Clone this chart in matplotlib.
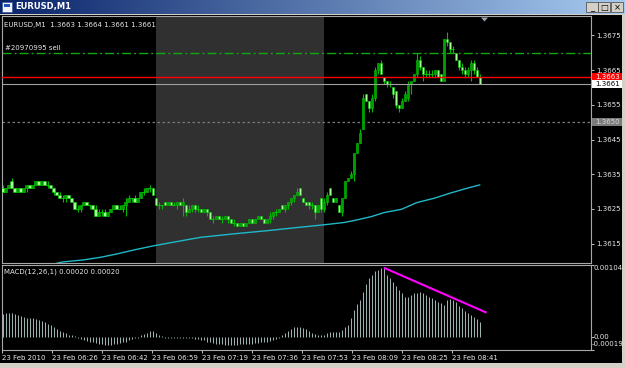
import matplotlib

matplotlib.use('Agg')
import matplotlib.pyplot as plt
import matplotlib.transforms as mtransforms
import numpy as np
from matplotlib.colors import LinearSegmentedColormap
from matplotlib.patches import Polygon, Rectangle

plt.rcParams['font.family'] = 'DejaVu Sans'

# EURUSD M1, one value per bar (160 bars, 23 Feb 2010 06:10 .. 08:51)
opens = [
    1.3631, 1.3630, 1.3631, 1.3633, 1.3631, 1.3630, 1.3631, 1.3630, 1.3631, 1.3632, 1.3631, 1.3632, 1.3633, 1.3632, 1.3633, 1.3632,
    1.3632, 1.3631, 1.3630, 1.3629, 1.3628, 1.3628, 1.3629, 1.3628, 1.3627, 1.3625, 1.3625, 1.3626, 1.3627, 1.3626, 1.3626, 1.3625,
    1.3623, 1.3624, 1.3624, 1.3623, 1.3624, 1.3625, 1.3626, 1.3625, 1.3625, 1.3626, 1.3627, 1.3628, 1.3628, 1.3627, 1.3628, 1.3630,
    1.3630, 1.3631, 1.3631, 1.3628, 1.3626, 1.3626, 1.3627, 1.3626, 1.3627, 1.3626, 1.3626, 1.3627, 1.3626, 1.3626, 1.3624, 1.3625,
    1.3626, 1.3625, 1.3625, 1.3624, 1.3625, 1.3624, 1.3622, 1.3622, 1.3623, 1.3622, 1.3622, 1.3623, 1.3622, 1.3621, 1.3621, 1.3620,
    1.3621, 1.3620, 1.3621, 1.3622, 1.3621, 1.3622, 1.3623, 1.3622, 1.3621, 1.3622, 1.3623, 1.3624, 1.3624, 1.3626, 1.3625, 1.3626,
    1.3627, 1.3628, 1.3629, 1.3631, 1.3628, 1.3627, 1.3627, 1.3626, 1.3626, 1.3624, 1.3628, 1.3625, 1.3627, 1.3631, 1.3628, 1.3627,
    1.3626, 1.3624, 1.3628, 1.3633, 1.3634, 1.3635, 1.3641, 1.3644, 1.3648, 1.3658, 1.3656, 1.3654, 1.3657, 1.3665, 1.3667, 1.3663,
    1.3662, 1.3661, 1.3660, 1.3659, 1.3655, 1.3654, 1.3656, 1.3657, 1.3661, 1.3662, 1.3664, 1.3668, 1.3666, 1.3664, 1.3664, 1.3664,
    1.3664, 1.3665, 1.3664, 1.3662, 1.3674, 1.3673, 1.3671, 1.3670, 1.3668, 1.3666, 1.3665, 1.3664, 1.3665, 1.3667, 1.3665, 1.3663,
]
highs = [
    1.3632, 1.3631, 1.3632, 1.3634, 1.3631, 1.3631, 1.3631, 1.3631, 1.3632, 1.3632, 1.3632, 1.3633, 1.3633, 1.3633, 1.3633, 1.3633,
    1.3632, 1.3631, 1.3630, 1.3630, 1.3629, 1.3629, 1.3629, 1.3628, 1.3627, 1.3626, 1.3626, 1.3627, 1.3627, 1.3626, 1.3626, 1.3626,
    1.3625, 1.3625, 1.3625, 1.3624, 1.3625, 1.3626, 1.3626, 1.3626, 1.3626, 1.3628, 1.3629, 1.3628, 1.3629, 1.3628, 1.3630, 1.3631,
    1.3631, 1.3632, 1.3631, 1.3628, 1.3627, 1.3626, 1.3627, 1.3627, 1.3627, 1.3627, 1.3627, 1.3627, 1.3628, 1.3626, 1.3626, 1.3626,
    1.3626, 1.3626, 1.3625, 1.3625, 1.3625, 1.3624, 1.3623, 1.3623, 1.3623, 1.3623, 1.3623, 1.3623, 1.3622, 1.3622, 1.3621, 1.3621,
    1.3621, 1.3621, 1.3622, 1.3622, 1.3622, 1.3623, 1.3623, 1.3622, 1.3622, 1.3624, 1.3624, 1.3625, 1.3625, 1.3626, 1.3626, 1.3627,
    1.3628, 1.3629, 1.3631, 1.3631, 1.3628, 1.3627, 1.3627, 1.3627, 1.3626, 1.3626, 1.3628, 1.3628, 1.3630, 1.3631, 1.3628, 1.3628,
    1.3626, 1.3628, 1.3633, 1.3634, 1.3636, 1.3641, 1.3644, 1.3648, 1.3658, 1.3658, 1.3656, 1.3658, 1.3666, 1.3667, 1.3668, 1.3663,
    1.3662, 1.3662, 1.3660, 1.3659, 1.3655, 1.3657, 1.3659, 1.3662, 1.3662, 1.3664, 1.3670, 1.3669, 1.3666, 1.3665, 1.3665, 1.3665,
    1.3665, 1.3665, 1.3664, 1.3674, 1.3676, 1.3673, 1.3672, 1.3670, 1.3668, 1.3667, 1.3666, 1.3666, 1.3668, 1.3668, 1.3666, 1.3664,
]
lows = [
    1.3630, 1.3630, 1.3631, 1.3631, 1.3630, 1.3630, 1.3630, 1.3630, 1.3630, 1.3631, 1.3631, 1.3632, 1.3632, 1.3632, 1.3632, 1.3631,
    1.3631, 1.3629, 1.3629, 1.3628, 1.3627, 1.3627, 1.3628, 1.3627, 1.3625, 1.3624, 1.3624, 1.3626, 1.3626, 1.3625, 1.3625, 1.3623,
    1.3623, 1.3623, 1.3623, 1.3623, 1.3624, 1.3625, 1.3625, 1.3625, 1.3624, 1.3623, 1.3627, 1.3627, 1.3627, 1.3627, 1.3628, 1.3629,
    1.3630, 1.3630, 1.3629, 1.3626, 1.3625, 1.3625, 1.3626, 1.3626, 1.3626, 1.3626, 1.3625, 1.3626, 1.3623, 1.3623, 1.3624, 1.3624,
    1.3624, 1.3624, 1.3624, 1.3624, 1.3623, 1.3622, 1.3621, 1.3622, 1.3622, 1.3621, 1.3622, 1.3621, 1.3621, 1.3620, 1.3620, 1.3620,
    1.3620, 1.3620, 1.3621, 1.3621, 1.3621, 1.3622, 1.3622, 1.3621, 1.3621, 1.3621, 1.3622, 1.3623, 1.3624, 1.3625, 1.3624, 1.3625,
    1.3626, 1.3627, 1.3629, 1.3629, 1.3627, 1.3626, 1.3625, 1.3625, 1.3622, 1.3624, 1.3624, 1.3624, 1.3626, 1.3629, 1.3627, 1.3627,
    1.3624, 1.3623, 1.3628, 1.3633, 1.3634, 1.3633, 1.3641, 1.3644, 1.3648, 1.3656, 1.3653, 1.3653, 1.3656, 1.3664, 1.3664, 1.3661,
    1.3660, 1.3660, 1.3657, 1.3654, 1.3653, 1.3654, 1.3656, 1.3656, 1.3658, 1.3662, 1.3663, 1.3665, 1.3662, 1.3663, 1.3663, 1.3663,
    1.3663, 1.3663, 1.3662, 1.3662, 1.3672, 1.3670, 1.3670, 1.3668, 1.3665, 1.3664, 1.3663, 1.3663, 1.3662, 1.3664, 1.3663, 1.3661,
]
closes = [
    1.3630, 1.3631, 1.3632, 1.3631, 1.3630, 1.3631, 1.3630, 1.3631, 1.3632, 1.3631, 1.3632, 1.3633, 1.3632, 1.3633, 1.3632, 1.3632,
    1.3631, 1.3630, 1.3629, 1.3628, 1.3628, 1.3629, 1.3628, 1.3627, 1.3625, 1.3625, 1.3626, 1.3627, 1.3626, 1.3626, 1.3625, 1.3623,
    1.3624, 1.3624, 1.3623, 1.3624, 1.3625, 1.3626, 1.3625, 1.3625, 1.3626, 1.3627, 1.3628, 1.3628, 1.3627, 1.3628, 1.3630, 1.3630,
    1.3631, 1.3631, 1.3629, 1.3626, 1.3626, 1.3626, 1.3626, 1.3627, 1.3626, 1.3626, 1.3627, 1.3626, 1.3627, 1.3624, 1.3625, 1.3626,
    1.3625, 1.3625, 1.3624, 1.3625, 1.3624, 1.3622, 1.3622, 1.3623, 1.3622, 1.3622, 1.3623, 1.3622, 1.3621, 1.3621, 1.3620, 1.3621,
    1.3620, 1.3621, 1.3622, 1.3621, 1.3622, 1.3623, 1.3622, 1.3621, 1.3622, 1.3623, 1.3624, 1.3624, 1.3625, 1.3625, 1.3626, 1.3627,
    1.3628, 1.3629, 1.3630, 1.3629, 1.3627, 1.3626, 1.3626, 1.3626, 1.3624, 1.3626, 1.3625, 1.3627, 1.3629, 1.3629, 1.3627, 1.3628,
    1.3624, 1.3628, 1.3633, 1.3634, 1.3635, 1.3641, 1.3644, 1.3647, 1.3657, 1.3656, 1.3654, 1.3657, 1.3665, 1.3667, 1.3664, 1.3662,
    1.3661, 1.3661, 1.3658, 1.3655, 1.3654, 1.3656, 1.3658, 1.3661, 1.3662, 1.3664, 1.3668, 1.3666, 1.3664, 1.3664, 1.3664, 1.3664,
    1.3665, 1.3663, 1.3662, 1.3674, 1.3673, 1.3671, 1.3671, 1.3668, 1.3666, 1.3665, 1.3664, 1.3665, 1.3667, 1.3665, 1.3663, 1.3661,
]

# cyan moving average, read at these bars
ma_bars = [14, 20, 27, 33, 38, 44, 50, 55, 66, 77, 88, 99, 107, 114, 118, 123, 127, 133, 138, 144, 149, 155, 159]
ma_values = [1.36085, 1.36097, 1.36103, 1.36111, 1.36120, 1.36132, 1.36143, 1.36151, 1.36168, 1.36178, 1.36187,
             1.36197, 1.36204, 1.36211, 1.36218, 1.36228, 1.36239, 1.36249, 1.36268, 1.36281, 1.36295, 1.36310, 1.36319]

# MACD(12,26,1) histogram, one value per bar
macd = [
    0.00033, 0.00034, 0.00034, 0.00034, 0.00033, 0.00031, 0.00030, 0.00029, 0.00028, 0.00027, 0.00027, 0.00026, 0.00025, 0.00023, 0.00021, 0.00019,
    0.00017, 0.00014, 0.00011, 0.00009, 0.00007, 0.00005, 0.00003, 0.00002, 0.00001, -0.00002, -0.00003, -0.00004, -0.00006, -0.00007, -0.00008, -0.00009,
    -0.00010, -0.00011, -0.00012, -0.00012, -0.00012, -0.00011, -0.00010, -0.00009, -0.00008, -0.00007, -0.00005, -0.00003, -0.00002, -0.00001, 0.00002, 0.00004,
    0.00006, 0.00008, 0.00008, 0.00006, 0.00003, 0.00001, -0.00001, -0.00001, -0.00002, -0.00002, -0.00002, -0.00002, -0.00001, -0.00002, -0.00002, -0.00002,
    -0.00003, -0.00003, -0.00004, -0.00005, -0.00007, -0.00008, -0.00009, -0.00010, -0.00011, -0.00011, -0.00012, -0.00012, -0.00012, -0.00012, -0.00012, -0.00011,
    -0.00011, -0.00011, -0.00010, -0.00010, -0.00009, -0.00009, -0.00008, -0.00008, -0.00007, -0.00006, -0.00004, -0.00003, -0.00001, 0.00003, 0.00006, 0.00009,
    0.00012, 0.00014, 0.00014, 0.00014, 0.00013, 0.00011, 0.00009, 0.00006, 0.00004, 0.00003, 0.00002, 0.00002, 0.00006, 0.00007, 0.00007, 0.00007,
    0.00007, 0.00010, 0.00015, 0.00017, 0.00027, 0.00039, 0.00047, 0.00054, 0.00065, 0.00077, 0.00085, 0.00090, 0.00095, 0.00097, 0.00099, 0.00100,
    0.00090, 0.00085, 0.00080, 0.00073, 0.00068, 0.00063, 0.00058, 0.00058, 0.00061, 0.00063, 0.00063, 0.00065, 0.00063, 0.00061, 0.00058, 0.00056,
    0.00054, 0.00051, 0.00049, 0.00046, 0.00054, 0.00055, 0.00054, 0.00050, 0.00044, 0.00042, 0.00037, 0.00034, 0.00032, 0.00029, 0.00026, 0.00021,
]

# magenta trend line drawn on the MACD window (bar, value at both ends)
trend_bars = [127.1, 161.3]
trend_values = [0.00100, 0.00035]

order_price = 1.3670   # #20970995 sell
ask_price = 1.3663
bid_price = 1.3661
level_price = 1.3650
price_ticks = [1.3615, 1.3625, 1.3635, 1.3645, 1.3655, 1.3665, 1.3675]
price_range = (1.36094, 1.36806)
macd_range = (-0.00019, 0.00104)
shade_bars = (51, 107)

time_labels = ['23 Feb 2010', '23 Feb 06:26', '23 Feb 06:42', '23 Feb 06:59', '23 Feb 07:19',
               '23 Feb 07:36', '23 Feb 07:53', '23 Feb 08:09', '23 Feb 08:25', '23 Feb 08:41']

W, H = 625, 368
fig = plt.figure(figsize=(W / 100, H / 100), dpi=100)
fig.patch.set_facecolor('#d4d0c8')


def px(x0, y0, x1, y1):
    # pixel box, origin top-left -> figure rect
    return [x0 / W, 1 - y1 / H, (x1 - x0) / W, (y1 - y0) / H]


def fx(x):
    return x / W


def fy(y):
    return 1 - y / H


# ---- window title bar ----
tb = fig.add_axes(px(0, 0, W, 14))
tb.imshow(np.linspace(0, 1, 256).reshape(1, -1), aspect='auto', extent=[0, 1, 0, 1],
          cmap=LinearSegmentedColormap.from_list('tb', ['#0a246a', '#a6caf0']))
tb.set_axis_off()
fig.add_artist(Rectangle((fx(2), fy(12)), 10 / W, 10 / H, transform=fig.transFigure,
                         fc='#f0f4fa', ec='#3a5a9a', lw=0.5, zorder=5))
fig.add_artist(Rectangle((fx(4), fy(7)), 6 / W, 3 / H, transform=fig.transFigure,
                         fc='#2050c0', ec='none', zorder=6))
fig.text(fx(15), fy(7), 'EURUSD,M1', color='white', fontsize=6, fontweight='bold', va='center')
for bx, glyph in [(586, '_'), (598, '□'), (611, '×')]:
    fig.add_artist(Rectangle((fx(bx), fy(12)), 12 / W, 10 / H, transform=fig.transFigure,
                             fc='#d4d0c8', ec='#404040', lw=0.5, zorder=5))
    fig.text(fx(bx + 6), fy(7.5), glyph, color='black', fontsize=6, ha='center', va='center', zorder=6)

# black chart body
fig.add_artist(Rectangle((fx(0), fy(363)), 622 / W, 348 / H, transform=fig.transFigure,
                         fc='black', ec='none', zorder=-10))

x = np.arange(len(closes))
o, h, l, c = (np.array(v) for v in (opens, highs, lows, closes))
xlim = (-0.2, 196.1)
grey = '#a8a8a8'

# ---- price window ----
ax = fig.add_axes(px(2, 16, 591, 263))
ax.set_facecolor('black')
ax.axvspan(shade_bars[0], shade_bars[1], color='#303030', lw=0, zorder=0)
ax.axhline(order_price, color='#10a810', lw=1.0, dashes=(6.5, 2.2, 1.4, 2.2), zorder=1)
ax.axhline(level_price, color='#7a7a7a', lw=0.9, dashes=(2, 2), zorder=1)
ax.plot(ma_bars, ma_values, color='#1fb8c8', lw=1.0, zorder=2)

ax.vlines(x, l, h, color='#00b800', lw=0.8, zorder=3)
up = c > o
dn = c < o
eq = c == o
ax.bar(x[up], (c - o)[up], bottom=o[up], width=0.75, color='#00a000', edgecolor='#00c800', lw=0.4, zorder=4)
ax.bar(x[dn], (o - c)[dn], bottom=c[dn], width=0.75, color='#a8ff98', edgecolor='#00c800', lw=0.4, zorder=4)
ax.hlines(c[eq], x[eq] - 0.45, x[eq] + 0.45, color='#00c800', lw=0.8, zorder=4)

ax.axhline(ask_price, color='#ff0000', lw=1.0, zorder=5)
ax.axhline(bid_price, color='#a0a0a0', lw=0.8, zorder=5)

ax.set_xlim(*xlim)
ax.set_ylim(*price_range)
ax.set_xticks([])
ax.yaxis.tick_right()
ax.set_yticks(price_ticks)
ax.set_yticklabels([f'{p:.4f}' for p in price_ticks])
ax.tick_params(axis='y', length=2.2, width=0.7, color='#c0c0c0', labelcolor='#e8e8e8', labelsize=5, pad=1.5)
for s in ax.spines.values():
    s.set_color(grey)
    s.set_linewidth(0.8)

trans = mtransforms.blended_transform_factory(ax.transAxes, ax.transData)
box_h = 0.00024
for price, fc, tc in [(ask_price, '#ff0000', 'white'), (bid_price, 'white', 'black'),
                      (level_price, '#7c7c7c', '#d8d8d8')]:
    ax.add_patch(Rectangle((1.002, price - box_h / 2), 0.05, box_h, transform=trans,
                           fc=fc, ec='none', clip_on=False, zorder=10))
    ax.text(1.007, price, f'{price:.4f}', transform=trans, ha='left', va='center',
            fontsize=5, color=tc, clip_on=False, zorder=11)

ax.annotate('#20970995 sell', xy=(0, order_price), xycoords=trans, xytext=(2, 1.2),
            textcoords='offset points', fontsize=5, color='#e8e8e8', va='bottom')
fig.text(fx(4), fy(25), f'EURUSD,M1  {opens[-1]:.4f} {highs[-1]:.4f} {lows[-1]:.4f} {closes[-1]:.4f}',
         fontsize=5, color='#e8e8e8', va='center')

# shift marker
fig.add_artist(Polygon([[fx(481), fy(17.5)], [fx(488), fy(17.5)], [fx(484.5), fy(21.5)]],
                       transform=fig.transFigure, fc='#9aa4ae', ec='none', zorder=5))

# ---- MACD window ----
ax2 = fig.add_axes(px(2, 265, 591, 350))
ax2.set_facecolor('black')
ax2.vlines(x, 0, macd, color='#9db0b0', lw=0.75)
ax2.plot(trend_bars, trend_values, color='#ff00ff', lw=1.5, solid_capstyle='butt', clip_on=False)
ax2.set_xlim(*xlim)
ax2.set_ylim(*macd_range)
ax2.yaxis.tick_right()
ax2.set_yticks([macd_range[1], 0.0, macd_range[0]])
ax2.set_yticklabels([])
ax2.tick_params(axis='y', length=2.2, width=0.7, color='#c0c0c0')

tick_pos = np.arange(len(time_labels)) * 50 / 3 - 0.1
ax2.set_xticks(tick_pos)
ax2.set_xticklabels(time_labels, ha='left')
ax2.tick_params(axis='x', length=2.2, width=0.7, color='#c0c0c0', labelcolor='#e8e8e8', labelsize=5, pad=1.5)
for s in ax2.spines.values():
    s.set_color(grey)
    s.set_linewidth(0.8)

ytr = mtransforms.blended_transform_factory(ax2.transAxes, ax2.transData)
lift = mtransforms.ScaledTranslation(0, 3 / 100, fig.dpi_scale_trans)
ax2.text(1.004, macd_range[1], f'{macd_range[1]:.5f}', transform=ytr, va='top', fontsize=5, color='#e8e8e8')
ax2.text(1.004, 0.0, '0.00', transform=ytr, va='center', fontsize=5, color='#e8e8e8')
ax2.text(1.001, macd_range[0], f'{macd_range[0]:.5f}', transform=ytr + lift, va='bottom', fontsize=5, color='#e8e8e8')
fig.text(fx(4), fy(272), 'MACD(12,26,1) 0.00020 0.00020', fontsize=5, color='#e8e8e8', va='center')

fig.savefig('out.png', dpi=100, facecolor=fig.get_facecolor())
print('OK')
